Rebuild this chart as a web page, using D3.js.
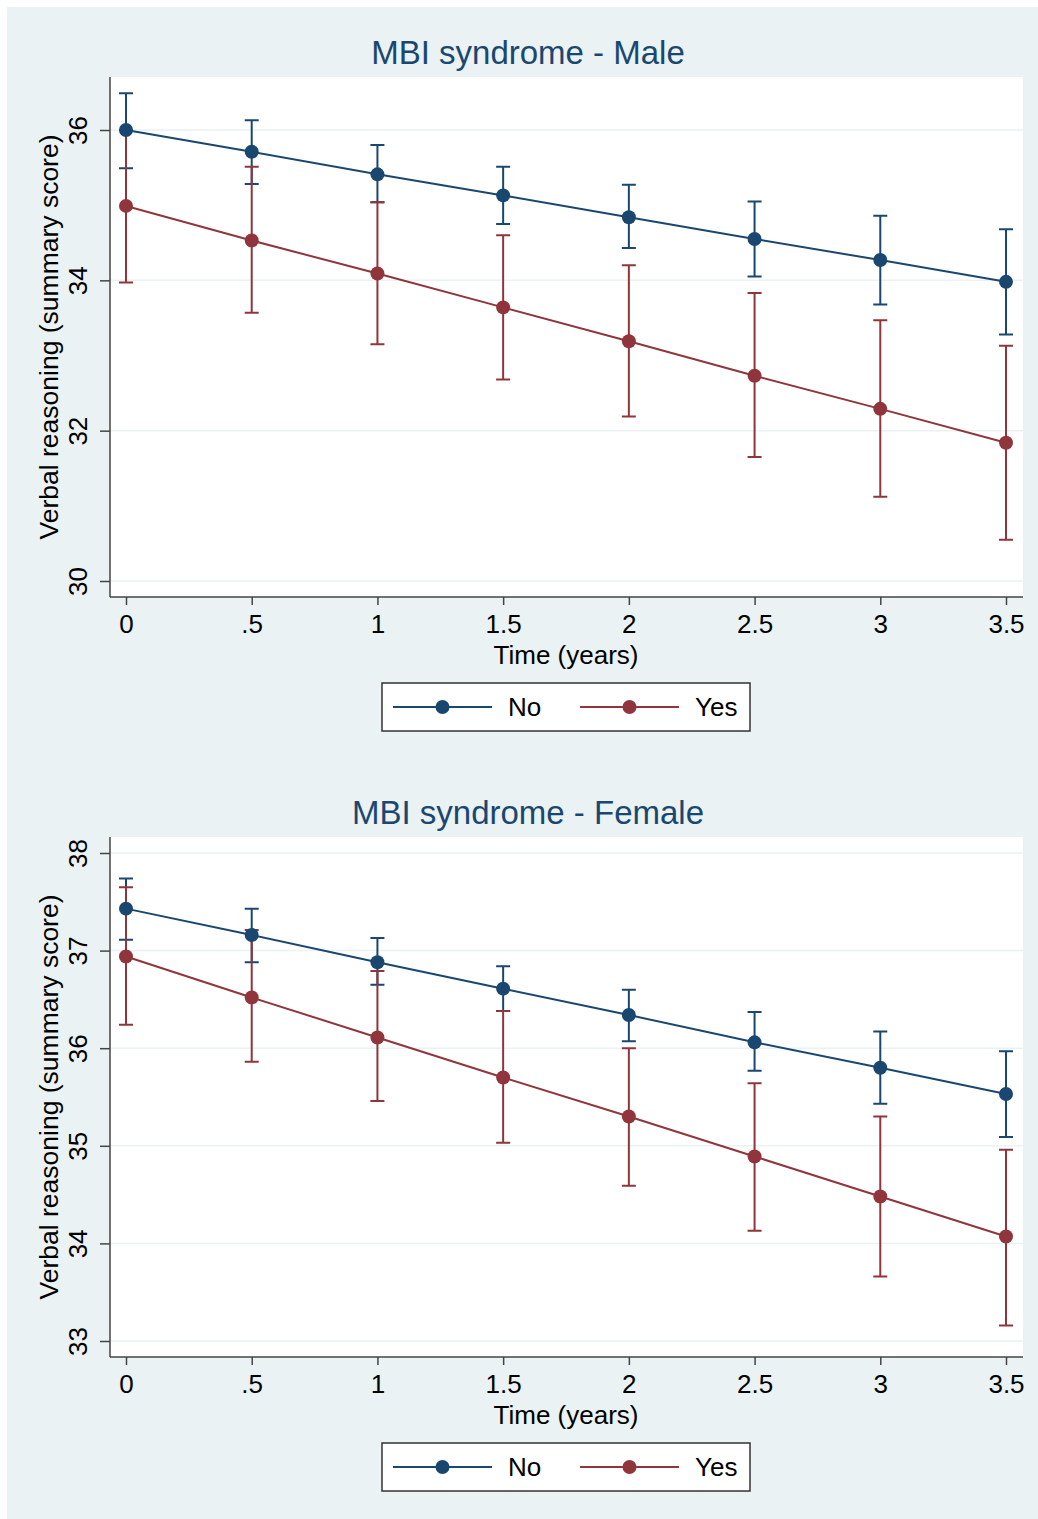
<!DOCTYPE html>
<html>
<head>
<meta charset="utf-8">
<script src="https://cdn.jsdelivr.net/npm/d3@7"></script>
<style>
  body { margin: 0; background: #fff; }
  svg text { font-family: "Liberation Sans", Arial, Helvetica, sans-serif; }
</style>
</head>
<body>
<svg id="chart" width="1038" height="1519"></svg>
<script>
// time points (years)
var timePoints = [0, 0.5, 1, 1.5, 2, 2.5, 3, 3.5];
var xTickLabels = ["0", ".5", "1", "1.5", "2", "2.5", "3", "3.5"];
var groups = ["No", "Yes"];

// Male panel
var maleNoMean  = [36.00, 35.71, 35.41, 35.13, 34.84, 34.55, 34.27, 33.98];
var maleNoLo    = [35.49, 35.28, 35.04, 34.75, 34.43, 34.05, 33.68, 33.28];
var maleNoHi    = [36.49, 36.13, 35.80, 35.51, 35.27, 35.05, 34.86, 34.68];
var maleYesMean = [34.99, 34.53, 34.09, 33.64, 33.19, 32.73, 32.29, 31.84];
var maleYesLo   = [33.97, 33.57, 33.15, 32.68, 32.19, 31.65, 31.12, 30.55];
var maleYesHi   = [36.00, 35.51, 35.04, 34.60, 34.20, 33.83, 33.47, 33.13];
var maleYTicks  = [30, 32, 34, 36];

// Female panel
var femNoMean  = [37.43, 37.16, 36.88, 36.61, 36.34, 36.06, 35.80, 35.53];
var femNoLo    = [37.11, 36.88, 36.65, 36.38, 36.07, 35.77, 35.43, 35.09];
var femNoHi    = [37.74, 37.43, 37.13, 36.84, 36.60, 36.37, 36.17, 35.97];
var femYesMean = [36.94, 36.52, 36.11, 35.70, 35.30, 34.89, 34.48, 34.07];
var femYesLo   = [36.24, 35.86, 35.46, 35.03, 34.59, 34.13, 33.66, 33.16];
var femYesHi   = [37.65, 37.21, 36.79, 36.38, 36.00, 35.64, 35.30, 34.96];
var femYTicks  = [33, 34, 35, 36, 37, 38];

var colors = { "No": "#1a476f", "Yes": "#90353b" };
var svg = d3.select("#chart");

// page background
svg.append("rect").attr("x", 7).attr("y", 7).attr("width", 1031).attr("height", 1512)
   .attr("fill", "#eaf2f3");

function toSeries(mean, lo, hi) {
  return timePoints.map(function(t, i) { return { t: t, m: mean[i], lo: lo[i], hi: hi[i] }; });
}

function drawPanel(p) {
  var left = 110, right = 1023;
  var x = d3.scaleLinear().domain([0, 3.5]).range([126, 1006]);
  var y = d3.scaleLinear().domain(p.yDomain).range(p.yRange);
  var g = svg.append("g");

  // title
  g.append("text").attr("x", 528).attr("y", p.top - 13)
   .attr("text-anchor", "middle").attr("font-size", 33).attr("fill", "#1a476f")
   .text(p.title);

  // plot region
  g.append("rect").attr("x", left).attr("y", p.top).attr("width", right - left)
   .attr("height", p.bottom - p.top).attr("fill", "#fff");

  // gridlines
  g.selectAll(".grid").data(p.yTicks).enter().append("line")
   .attr("x1", left).attr("x2", right)
   .attr("y1", function(d) { return y(d); }).attr("y2", function(d) { return y(d); })
   .attr("stroke", "#eaf2f3").attr("stroke-width", 1.5);

  // y axis
  var yAxis = g.append("g").attr("transform", "translate(" + left + ",0)")
    .call(d3.axisLeft(y).tickValues(p.yTicks).tickSize(10).tickSizeOuter(0).tickFormat(d3.format("d")));
  yAxis.select(".domain").attr("d", "M0," + p.top + "V" + p.bottom).attr("stroke", "#444").attr("stroke-width", 1.5);
  yAxis.selectAll(".tick line").attr("stroke", "#444").attr("stroke-width", 1.5);
  yAxis.selectAll(".tick text")
    .attr("font-size", 26).attr("fill", "#000")
    .attr("x", null).attr("dy", null)
    .attr("text-anchor", "middle")
    .attr("transform", "translate(-32,0) rotate(-90)")
    .attr("y", 0).attr("dy", "0.35em");

  // x axis
  var xAxis = g.append("g").attr("transform", "translate(0," + p.bottom + ")")
    .call(d3.axisBottom(x).tickValues(timePoints).tickSize(8).tickSizeOuter(0)
      .tickFormat(function(d, i) { return xTickLabels[i]; }));
  xAxis.select(".domain").attr("d", "M" + left + ",0H" + right).attr("stroke", "#444").attr("stroke-width", 1.5);
  xAxis.selectAll(".tick line").attr("stroke", "#444").attr("stroke-width", 1.5);
  xAxis.selectAll(".tick text").attr("font-size", 26).attr("fill", "#000").attr("y", 18);

  // axis titles
  g.append("text").attr("transform", "translate(58," + ((p.top + p.bottom) / 2) + ") rotate(-90)")
   .attr("text-anchor", "middle").attr("font-size", 26.5).attr("fill", "#000")
   .text("Verbal reasoning (summary score)");
  g.append("text").attr("x", 566).attr("y", p.bottom + 67)
   .attr("text-anchor", "middle").attr("font-size", 26).attr("fill", "#000")
   .text("Time (years)");

  // series: error bars first, then lines and markers
  var line = d3.line().x(function(d) { return x(d.t); }).y(function(d) { return y(d.m); });
  p.series.forEach(function(s) {
    g.append("g").selectAll("path").data(s.values).enter().append("path")
      .attr("d", function(d) {
        var cx = x(d.t);
        return "M" + cx + "," + y(d.lo) + "V" + y(d.hi) +
               "M" + (cx - 7) + "," + y(d.lo) + "H" + (cx + 7) +
               "M" + (cx - 7) + "," + y(d.hi) + "H" + (cx + 7);
      })
      .attr("stroke", colors[s.name]).attr("stroke-width", 2).attr("fill", "none");
  });
  p.series.slice().reverse().forEach(function(s) {
    var c = colors[s.name];
    var sg = g.append("g");
    sg.append("path").datum(s.values).attr("d", line)
      .attr("stroke", c).attr("stroke-width", 2).attr("fill", "none");
    sg.selectAll("circle").data(s.values).enter().append("circle")
      .attr("cx", function(d) { return x(d.t); }).attr("cy", function(d) { return y(d.m); })
      .attr("r", 7).attr("fill", c);
  });

  // legend
  var ly = p.bottom + 86;
  var lg = g.append("g").attr("transform", "translate(382," + ly + ")");
  lg.append("rect").attr("width", 368).attr("height", 48).attr("fill", "#fff")
    .attr("stroke", "#333").attr("stroke-width", 1.5);
  var legX = [11, 198];
  groups.forEach(function(name, i) {
    var c = colors[name];
    var item = lg.append("g").attr("transform", "translate(" + legX[i] + ",24)");
    item.append("line").attr("x1", 0).attr("x2", 99).attr("stroke", c).attr("stroke-width", 2);
    item.append("circle").attr("cx", 49.5).attr("r", 7).attr("fill", c);
    item.append("text").attr("x", 115).attr("dy", "0.36em").attr("font-size", 26).attr("fill", "#000").text(name);
  });
}

drawPanel({
  title: "MBI syndrome - Male",
  top: 77, bottom: 597,
  yDomain: [30, 36], yRange: [581, 130],
  yTicks: maleYTicks,
  series: [
    { name: "No",  values: toSeries(maleNoMean, maleNoLo, maleNoHi) },
    { name: "Yes", values: toSeries(maleYesMean, maleYesLo, maleYesHi) }
  ]
});

drawPanel({
  title: "MBI syndrome - Female",
  top: 837, bottom: 1357,
  yDomain: [33, 38], yRange: [1341, 853],
  yTicks: femYTicks,
  series: [
    { name: "No",  values: toSeries(femNoMean, femNoLo, femNoHi) },
    { name: "Yes", values: toSeries(femYesMean, femYesLo, femYesHi) }
  ]
});
</script>
</body>
</html>
